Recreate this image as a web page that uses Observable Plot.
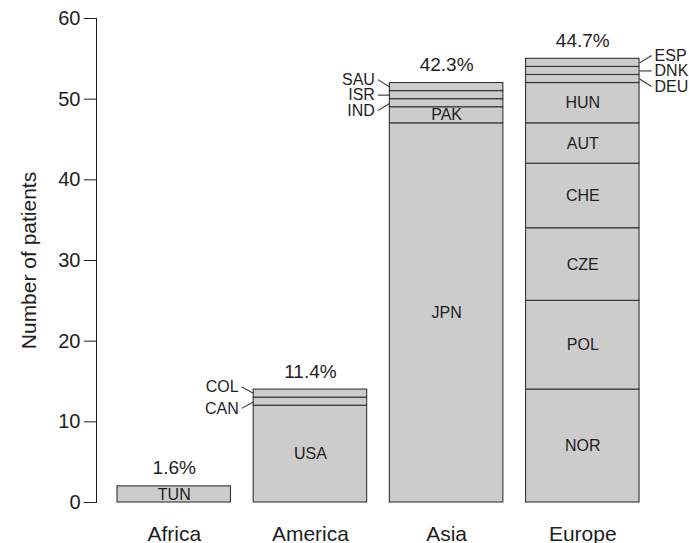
<!DOCTYPE html>
<html>
<head>
<meta charset="utf-8">
<script src="https://cdn.jsdelivr.net/npm/d3@7"></script>
<script src="https://cdn.jsdelivr.net/npm/@observablehq/plot@0.6"></script>
<style>
  html, body { margin: 0; padding: 0; background: #ffffff; }
  #chart { width: 689px; height: 543px; }
</style>
</head>
<body>
<div id="chart"></div>
<script>
// ---- data ----
const regions = ["Africa", "America", "Asia", "Europe"];
const countries = ["TUN",
  "USA", "CAN", "COL",
  "JPN", "PAK", "IND", "ISR", "SAU",
  "NOR", "POL", "CZE", "CHE", "AUT", "HUN", "DEU", "DNK", "ESP"];
const countryRegion = ["Africa",
  "America", "America", "America",
  "Asia", "Asia", "Asia", "Asia", "Asia",
  "Europe", "Europe", "Europe", "Europe", "Europe", "Europe", "Europe", "Europe", "Europe"];
const patients = [2,
  12, 1, 1,
  47, 2, 1, 1, 1,
  14, 11, 9, 8, 5, 5, 1, 1, 1];
const yTicks = [0, 10, 20, 30, 40, 50, 60];
const yLabel = "Number of patients";

// ---- layout (R barplot style: width 1, space 0.2) ----
const barWidth = 1, barSpace = 0.2;
const W = 689, H = 543;
const mTop = 18, mBottom = 41, mLeft = 96, mRight = 20;
const xDomain = [0.015, 5.064];
const pxPerX = (W - mLeft - mRight) / (xDomain[1] - xDomain[0]);
const pxPerY = (H - mTop - mBottom) / 60;

const regionIndex = new Map(regions.map((r, i) => [r, i]));
const barLeft = r => barSpace + regionIndex.get(r) * (barWidth + barSpace);

// stack segments
const cum = new Map();
const segs = countries.map((c, i) => {
  const r = countryRegion[i];
  const y1 = cum.get(r) || 0;
  const y2 = y1 + patients[i];
  cum.set(r, y2);
  const x1 = barLeft(r);
  return {country: c, region: r, value: patients[i], x1, x2: x1 + barWidth, y1, y2, mid: (y1 + y2) / 2};
});
const grand = d3.sum(patients);
const totals = regions.map(r => ({
  region: r,
  x: barLeft(r) + barWidth / 2,
  total: cum.get(r),
  pct: (100 * cum.get(r) / grand).toFixed(1) + "%"
}));

const inside = segs.filter(d => d.value >= 2);
// small segments get labels outside with leader lines
const outside = [];
for (const r of regions) {
  const g = segs.filter(d => d.region === r && d.value < 2);
  if (!g.length) continue;
  const side = r === "Europe" ? 1 : -1;
  const center = d3.mean(g, d => d.mid);
  const spacingPx = g.length > 2 ? 15.5 : 21.5;
  g.forEach((d, k) => {
    const off = (k - (g.length - 1) / 2) * spacingPx / pxPerY;
    const edge = side > 0 ? d.x2 : d.x1;
    outside.push({
      ...d, side,
      edge,
      lx: edge + side * 12 / pxPerX,
      tx: edge + side * 15 / pxPerX,
      ly: center + off
    });
  });
}

const font = "'Liberation Sans', Arial, Helvetica, sans-serif";
const ink = "#1e1e1e";

const chart = Plot.plot({
  width: W,
  height: H,
  marginTop: mTop,
  marginBottom: mBottom,
  marginLeft: mLeft,
  marginRight: mRight,
  style: {fontFamily: font, fontSize: "20px", color: ink, background: "#ffffff", overflow: "visible"},
  x: {domain: xDomain, axis: null},
  y: {domain: [0, 60], ticks: yTicks, tickSize: 12, tickPadding: 4, line: true, label: null},
  marks: [
    Plot.rect(segs, {x1: "x1", x2: "x2", y1: "y1", y2: "y2", fill: "#cccccc", stroke: "#333333", strokeWidth: 1.1}),
    Plot.text(inside, {x: d => d.x1 + barWidth / 2, y: "mid", text: "country", fontSize: 16, fill: ink}),
    Plot.text(totals, {x: "x", y: "total", text: "pct", lineAnchor: "bottom", dy: -12, fontSize: 19, fill: ink}),
    Plot.text(totals, {x: "x", y: () => 0, text: "region", lineAnchor: "bottom", dy: 38, fontSize: 21, fill: ink}),
    Plot.link(outside, {x1: "edge", y1: "mid", x2: "lx", y2: "ly", stroke: "#333333", strokeWidth: 1.1}),
    Plot.text(outside.filter(d => d.side < 0), {x: "tx", y: "ly", text: "country", textAnchor: "end", fontSize: 16, fill: ink}),
    Plot.text(outside.filter(d => d.side > 0), {x: "tx", y: "ly", text: "country", textAnchor: "start", fontSize: 16, fill: ink}),
    Plot.text([yLabel], {frameAnchor: "left", textAnchor: "middle", text: d => d, rotate: -90, lineAnchor: "bottom", dx: -61, fontSize: 21, fill: ink})
  ]
});
document.getElementById("chart").appendChild(chart);
</script>
</body>
</html>
